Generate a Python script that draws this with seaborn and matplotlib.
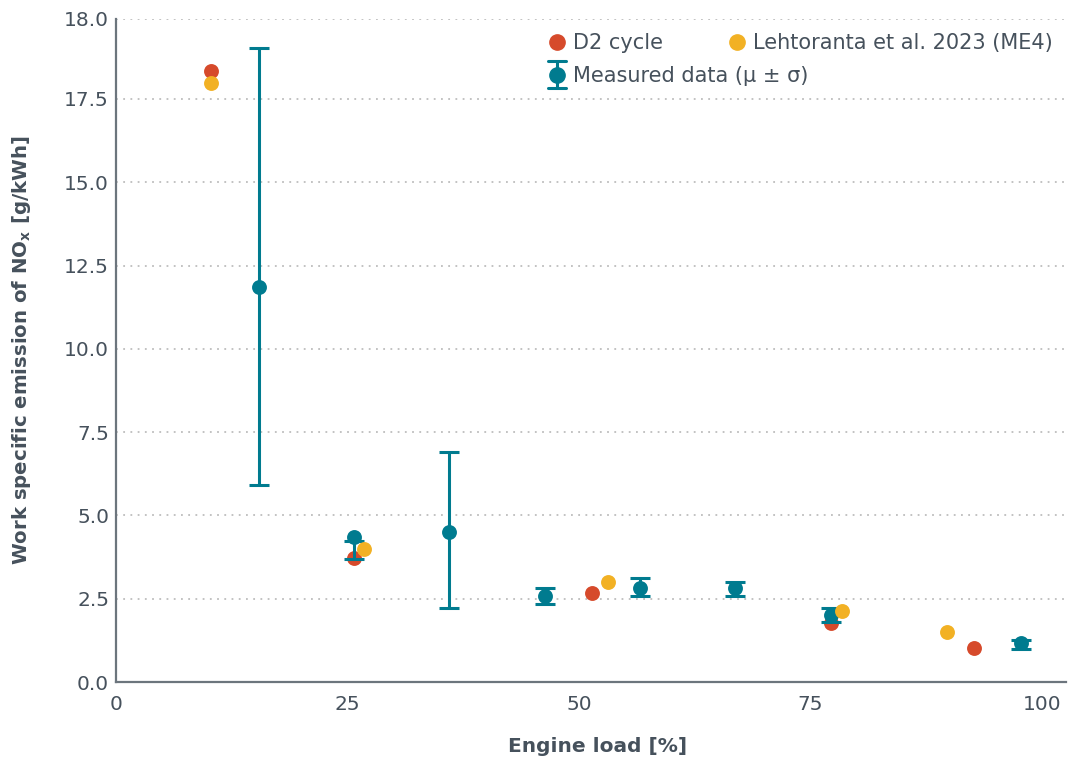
import numpy as np
import pandas as pd
import matplotlib
matplotlib.use("Agg")
import matplotlib.pyplot as plt
import seaborn as sns
from matplotlib.lines import Line2D
from matplotlib.legend import Legend
from matplotlib.legend_handler import HandlerBase

# ---- data ----
load_d2 = [10.3, 25.7, 51.4, 77.2, 92.7]
nox_d2 = [18.34, 3.72, 2.67, 1.77, 1.02]

load_leh = [10.3, 26.8, 53.1, 78.4, 89.7]
nox_leh = [17.98, 3.99, 3.00, 2.13, 1.50]

load_meas = [15.4, 25.7, 36.0, 46.3, 56.6, 66.9, 77.2, 97.7]
nox_mean = [11.86, 4.35, 4.50, 2.58, 2.82, 2.82, 2.01, 1.17]
nox_low = [5.91, 3.69, 2.22, 2.34, 2.58, 2.58, 1.80, 0.99]
nox_high = [19.03, 4.23, 6.90, 2.82, 3.12, 3.00, 2.22, 1.26]

x_ticks = [0, 25, 50, 75, 100]
x_ticklabels = ["0", "25", "50", "75", "100"]
y_ticks = [0, 2.5, 5, 7.5, 10, 12.5, 15, 17.5, 19.9]
y_ticklabels = ["0.0", "2.5", "5.0", "7.5", "10.0", "12.5", "15.0", "17.5", "18.0"]

legend_labels = ["D2 cycle", "Lehtoranta et al. 2023 (ME4)", "Measured data (μ ± σ)"]

RED = "#d64a2b"
YELLOW = "#f2b124"
TEAL = "#007b8f"
TXT = "#46515c"
AXC = "#6c757d"

sns.set_theme(style="white")
plt.rcParams["font.family"] = ["DejaVu Sans"]

fig = plt.figure(figsize=(10.68, 7.6), dpi=100)
AX_L, AX_B, AX_W, AX_H = 116, 78, 950, 663
ax = fig.add_axes([AX_L / 1068, AX_B / 760, AX_W / 1068, AX_H / 760])

df_d2 = pd.DataFrame({"load": load_d2, "nox": nox_d2})
df_leh = pd.DataFrame({"load": load_leh, "nox": nox_leh})
df_meas = pd.DataFrame({"load": load_meas, "mean": nox_mean, "low": nox_low, "high": nox_high})
df_meas["mid"] = (df_meas["low"] + df_meas["high"]) / 2
df_meas["half"] = (df_meas["high"] - df_meas["low"]) / 2

ms = 115
sns.scatterplot(data=df_d2, x="load", y="nox", color=RED, s=ms, linewidth=0, ax=ax, zorder=3)
ax.errorbar(df_meas["load"], df_meas["mid"], yerr=df_meas["half"], fmt="none",
            ecolor=TEAL, elinewidth=2.2, capsize=7, capthick=2.2, zorder=4)
sns.scatterplot(data=df_meas, x="load", y="mean", color=TEAL, s=ms, linewidth=0, ax=ax, zorder=5)
sns.scatterplot(data=df_leh, x="load", y="nox", color=YELLOW, s=ms, linewidth=0, ax=ax, zorder=6)

ax.set_xlim(0, 102.6)
ax.set_ylim(0, 19.9)
ax.set_xticks(x_ticks)
ax.set_xticklabels(x_ticklabels)
ax.set_yticks(y_ticks)
ax.set_yticklabels(y_ticklabels)
ax.tick_params(axis="both", length=0, labelsize=14.5, colors=TXT, pad=5)
ax.tick_params(axis="x", pad=9)

ax.yaxis.grid(True, linestyle=(0, (1, 3)), color="#bdbdbd", linewidth=1.3)
ax.xaxis.grid(False)
for s in ["top", "right"]:
    ax.spines[s].set_visible(False)
for s in ["left", "bottom"]:
    ax.spines[s].set_color(AXC)
    ax.spines[s].set_linewidth(1.6)

ax.set_xlabel("Engine load [%]", fontsize=14.5, color=TXT, fontweight="bold")
ax.set_ylabel(r"Work specific emission of NO$_\mathregular{x}$ [g/kWh]", fontsize=14.2,
              color=TXT, fontweight="bold")
ax.xaxis.set_label_coords((598 - AX_L) / AX_W, (682 - 737) / AX_H)
ax.yaxis.set_label_coords((33 - AX_L) / AX_W, 0.5)


class HandlerMeas(HandlerBase):
    def create_artists(self, legend, orig_handle, xdescent, ydescent, width, height,
                       fontsize, trans):
        cx = width / 2 - xdescent
        cy = height / 2 - ydescent
        hb = 0.64 * fontsize
        cw = 0.42 * fontsize
        kw = dict(color=TEAL, linewidth=2.2, transform=trans)
        v = Line2D([cx, cx], [cy - hb, cy + hb], **kw)
        c1 = Line2D([cx - cw, cx + cw], [cy + hb, cy + hb], **kw)
        c2 = Line2D([cx - cw, cx + cw], [cy - hb, cy - hb], **kw)
        m = Line2D([cx], [cy], marker="o", linestyle="none", color=TEAL,
                   markersize=11, transform=trans)
        return [v, c1, c2, m]


LEG_FS = 15
half_handle_px = LEG_FS * 100 / 72 / 2
h_d2 = Line2D([], [], marker="o", linestyle="none", color=RED, markersize=11)
h_leh = Line2D([], [], marker="o", linestyle="none", color=YELLOW, markersize=11)
h_meas = Line2D([], [], color=TEAL)

# one legend per entry, centred on the marker positions of the reference
entries = [(h_d2, legend_labels[0], 557, 43),
           (h_leh, legend_labels[1], 737, 43),
           (h_meas, legend_labels[2], 557, 76)]
for h, lab, px, py in entries:
    lg = Legend(ax, [h], [lab], loc="center left",
                bbox_to_anchor=((px - half_handle_px - AX_L) / AX_W, (682 - py) / AX_H),
                bbox_transform=ax.transAxes,
                frameon=False, fontsize=LEG_FS, handletextpad=0.25, handlelength=1.0,
                borderpad=0, borderaxespad=0,
                handler_map={h_meas: HandlerMeas()})
    for t in lg.get_texts():
        t.set_color(TXT)
    ax.add_artist(lg)

fig.savefig("out.png", dpi=100)
